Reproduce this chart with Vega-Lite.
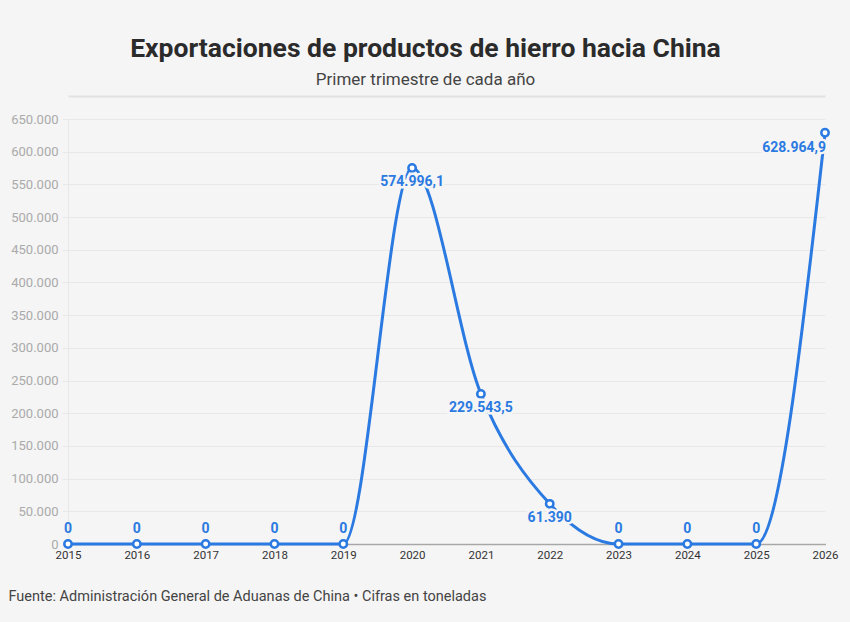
{
  "$schema": "https://vega.github.io/schema/vega-lite/v6.json",
  "width": 757,
  "height": 425,
  "autosize": {"type": "none"},
  "padding": {"left": 68, "top": 119, "right": 25, "bottom": 78},
  "background": "#f5f5f5",
  "title": {
    "text": "Exportaciones de productos de hierro hacia China",
    "subtitle": "Primer trimestre de cada año",
    "anchor": "middle",
    "frame": "group",
    "dx": -21,
    "offset": 8,
    "font": "Roboto",
    "fontSize": 26.5,
    "fontWeight": "bold",
    "color": "#2b2b2b",
    "subtitleFont": "Roboto",
    "subtitleFontSize": 17,
    "subtitleColor": "#444444",
    "subtitlePadding": 10
  },
  "config": {
    "locale": {"number": {"decimal": ",", "thousands": ".", "grouping": [3], "currency": ["", " €"]}},
    "view": {"stroke": null},
    "font": "Roboto"
  },
  "data": {
    "values": [
      {"year": 2015, "value": 0},
      {"year": 2016, "value": 0},
      {"year": 2017, "value": 0},
      {"year": 2018, "value": 0},
      {"year": 2019, "value": 0},
      {"year": 2020, "value": 574996.1},
      {"year": 2021, "value": 229543.5},
      {"year": 2022, "value": 61390},
      {"year": 2023, "value": 0},
      {"year": 2024, "value": 0},
      {"year": 2025, "value": 0},
      {"year": 2026, "value": 628964.9}
    ]
  },
  "resolve": {"axis": {"x": "independent"}},
  "encoding": {
    "y": {
      "field": "value", "type": "quantitative",
      "scale": {"domain": [0, 650000], "nice": false},
      "axis": {
        "values": [0, 50000, 100000, 150000, 200000, 250000, 300000, 350000, 400000, 450000, 500000, 550000, 600000, 650000],
        "format": ",d", "title": null,
        "labelColor": "#aaaaaa", "labelFontSize": 13, "labelPadding": 4,
        "gridColor": "#e8e8e8", "tickColor": "#e8e8e8", "tickSize": 6,
        "domainColor": "#e8e8e8"
      }
    }
  },
  "layer": [
    {
      "mark": {"type": "line", "interpolate": "monotone", "color": "#2a7ae2", "strokeWidth": 3},
      "encoding": {
        "x": {
          "field": "year", "type": "quantitative",
          "scale": {"domain": [2015, 2026], "nice": false, "zero": false},
          "axis": {
            "values": [2015, 2016, 2017, 2018, 2019, 2020, 2021, 2022, 2023, 2024, 2025, 2026],
            "format": "d", "grid": false, "ticks": false, "labelFlush": false,
            "labelColor": "#333333", "labelFontSize": 11.5, "labelPadding": 5,
            "domainColor": "#666666", "domainDash": [1, 1], "domainWidth": 1.5,
            "title": "Fuente: Administración General de Aduanas de China • Cifras en toneladas",
            "titleAnchor": "start", "titleAlign": "left", "titleX": -60, "titleY": 45,
            "titleFontWeight": "normal", "titleFontSize": 14.5, "titleColor": "#444444"
          }
        }
      }
    },
    {
      "mark": {"type": "point", "filled": true, "fill": "white", "stroke": "#2a7ae2", "strokeWidth": 2.5, "size": 55, "opacity": 1},
      "encoding": {
        "x": {
          "field": "year", "type": "quantitative",
          "axis": {"orient": "top", "labels": false, "ticks": false, "grid": false, "title": null, "domainColor": "#e2e2e2", "domainWidth": 2, "offset": 23}
        }
      }
    },
    {
      "transform": [{"filter": "datum.value == 0"}],
      "mark": {"type": "text", "dy": -15, "fontSize": 14, "fontWeight": "bold", "color": "#2a7ae2"},
      "encoding": {
        "x": {"field": "year", "type": "quantitative", "axis": null},
        "text": {"field": "value", "type": "quantitative", "format": ",.1~f"}
      }
    },
    {
      "transform": [{"filter": "datum.value > 0 && datum.year < 2026"}],
      "layer": [
        {"mark": {"type": "text", "dy": 14, "fontSize": 14, "fontWeight": "bold", "stroke": "#f5f5f5", "strokeWidth": 5, "fill": "#f5f5f5"}},
        {"mark": {"type": "text", "dy": 14, "fontSize": 14, "fontWeight": "bold", "color": "#2a7ae2"}}
      ],
      "encoding": {
        "x": {"field": "year", "type": "quantitative", "axis": null},
        "text": {"field": "value", "type": "quantitative", "format": ",.1~f"}
      }
    },
    {
      "transform": [{"filter": "datum.year == 2026"}],
      "layer": [
        {"mark": {"type": "text", "dy": 15, "dx": 1, "align": "right", "fontSize": 14, "fontWeight": "bold", "stroke": "#f5f5f5", "strokeWidth": 5, "fill": "#f5f5f5"}},
        {"mark": {"type": "text", "dy": 15, "dx": 1, "align": "right", "fontSize": 14, "fontWeight": "bold", "color": "#2a7ae2"}}
      ],
      "encoding": {
        "x": {"field": "year", "type": "quantitative", "axis": null},
        "text": {"field": "value", "type": "quantitative", "format": ",.1~f"}
      }
    }
  ]
}
